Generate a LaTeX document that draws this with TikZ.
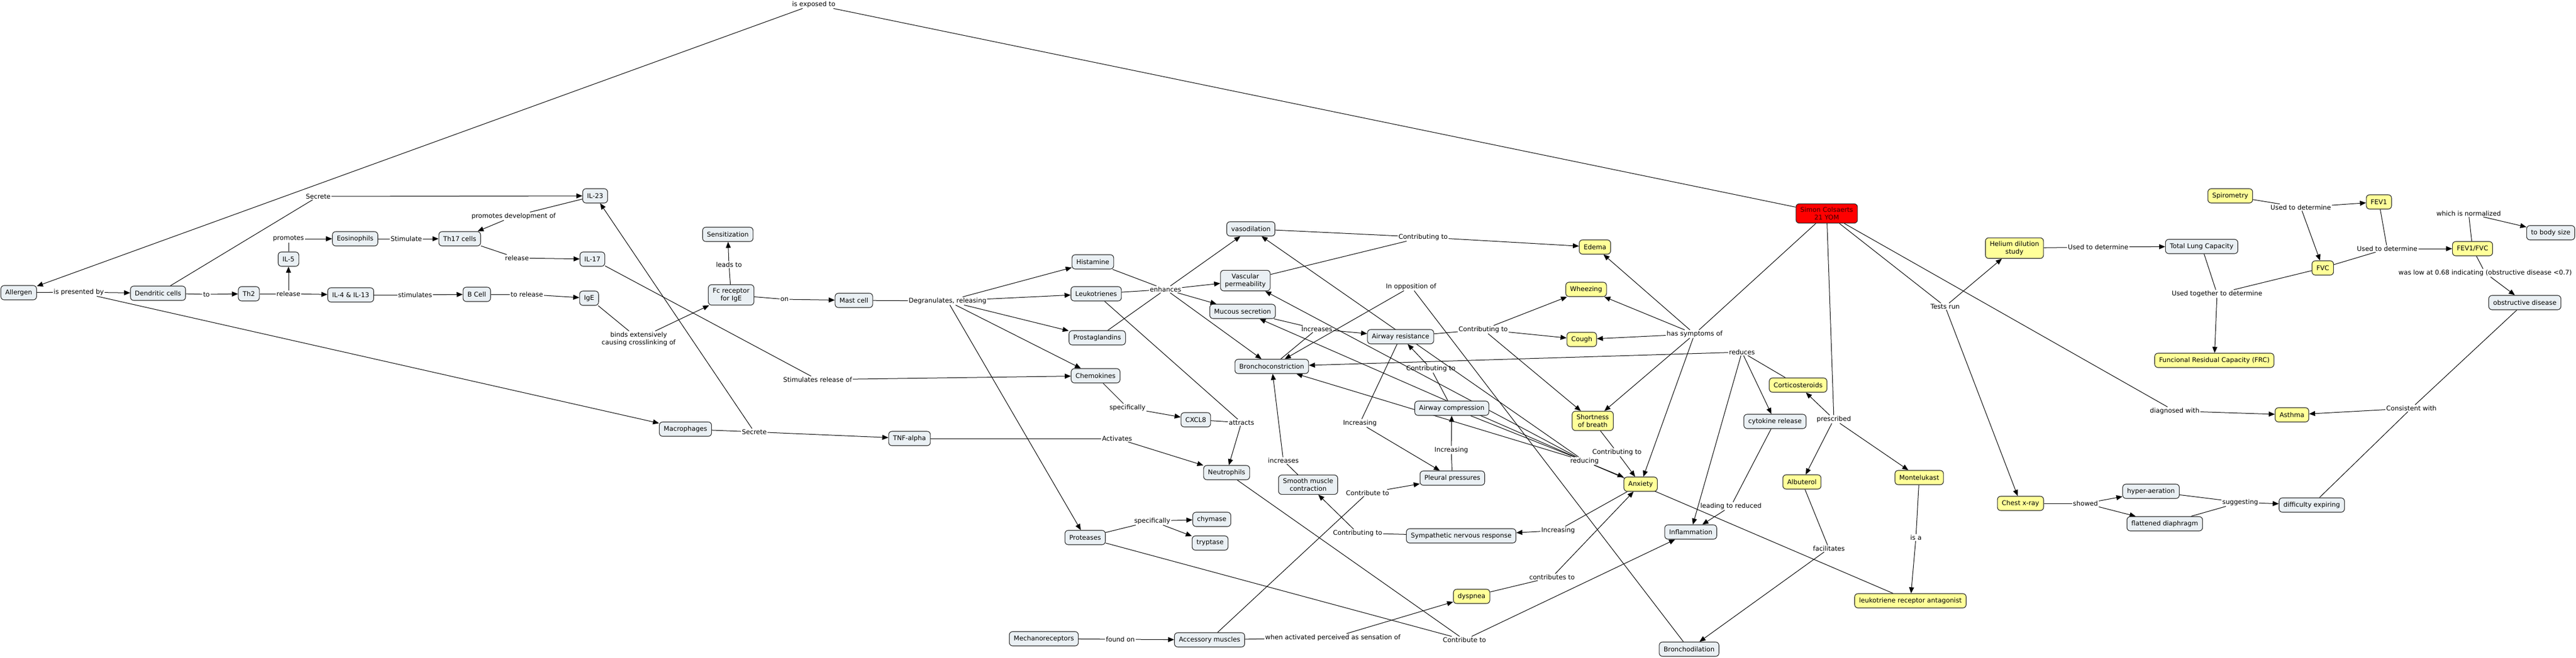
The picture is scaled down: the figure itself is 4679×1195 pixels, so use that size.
\documentclass[tikz,border=0pt]{standalone}
\usepackage{fontspec}
\setmainfont{DejaVu Sans}
\usetikzlibrary{arrows.meta}
\pgfdeclarelayer{bg}
\pgfsetlayers{bg,main}
\definecolor{cblue}{HTML}{EAF0F4}
\definecolor{cyel}{HTML}{FFFF99}
\definecolor{cred}{HTML}{FF0000}
\definecolor{credtext}{HTML}{3A0000}
\newcommand\cmfont{\fontsize{11.8}{14}\selectfont}
\tikzset{
  concept/.style={draw=black!85, line width=1.1pt, rounded corners=6pt, fill=cblue,
    inner xsep=8pt, inner ysep=6pt, minimum height=26pt, align=center, font=\cmfont},
  yel/.style={concept, fill=cyel},
  redc/.style={concept, fill=cred, text=credtext},
  lbl/.style={inner sep=1.5pt, font=\cmfont, align=center},
  edge/.style={line width=1pt, draw=black},
  arr/.style={edge, -{Triangle[length=11pt,width=9pt]}}
}
\begin{document}
\begin{tikzpicture}[x=1pt,y=-1pt]
\useasboundingbox (0,0) rectangle (4679,1195);
% ---------- concepts ----------
\node[concept] (allergen) at (34,532) {Allergen};
\node[concept] (dend) at (287,533) {Dendritic cells};
\node[concept] (th2) at (452,534) {Th2};
\node[concept] (il5) at (524,471) {IL-5};
\node[concept] (eos) at (645,434) {Eosinophils};
\node[concept] (il413) at (637,536) {IL-4 \& IL-13};
\node[concept] (th17) at (835,434) {Th17 cells};
\node[concept] (il23) at (1081,356) {IL-23};
\node[concept] (il17) at (1076,471) {IL-17};
\node[concept] (bcell) at (866,535) {B Cell};
\node[concept] (ige) at (1070,542) {IgE};
\node[concept] (fc) at (1328,536) {Fc receptor\\for IgE};
\node[concept] (sens) at (1322,426) {Sensitization};
\node[concept] (mast) at (1551,546) {Mast cell};
\node[concept] (hist) at (1985,476) {Histamine};
\node[concept] (leuko) at (1991,534) {Leukotrienes};
\node[concept] (prosta) at (1993,614) {Prostaglandins};
\node[concept] (chemo) at (1990,683) {Chemokines};
\node[concept] (macro) at (1245,780) {Macrophages};
\node[concept] (tnf) at (1652,797) {TNF-alpha};
\node[concept] (cxcl8) at (2172,763) {CXCL8};
\node[concept] (neutro) at (2228,859) {Neutrophils};
\node[concept] (protease) at (1971,977) {Proteases};
\node[concept] (chymase) at (2201,944) {chymase};
\node[concept] (tryptase) at (2198,987) {tryptase};
\node[concept] (mechano) at (1896,1161) {Mechanoreceptors};
\node[concept] (access) at (2197,1163) {Accessory muscles};
\node[concept] (vaso) at (2272,416) {vasodilation};
\node[concept] (vascperm) at (2262,510) {Vascular\\permeability};
\node[concept] (mucous) at (2257,566) {Mucous secretion};
\node[concept] (broncho) at (2310,666) {Bronchoconstriction};
\node[concept] (smooth) at (2376,881) {Smooth muscle\\contraction};
\node[concept] (airres) at (2544,612) {Airway resistance};
\node[concept] (aircomp) at (2637,742) {Airway compression};
\node[concept] (pleural) at (2638,869) {Pleural pressures};
\node[concept] (symp) at (2654,974) {Sympathetic nervous response};
\node[yel] (dyspnea) at (2673,1084) {dyspnea};
\node[yel] (edema) at (2897,449) {Edema};
\node[yel] (wheez) at (2881,526) {Wheezing};
\node[yel] (cough) at (2873,617) {Cough};
\node[yel] (sob) at (2893,765) {Shortness\\of breath};
\node[yel] (anxiety) at (2980,880) {Anxiety};
\node[concept] (inflam) at (3071,967) {Inflammation};
\node[concept] (bronchodil) at (3068,1180) {Bronchodilation};
\node[redc] (simon) at (3318,388) {Simon Colsaerts\\21 YOM};
\node[yel] (cortico) at (3266,700) {Corticosteroids};
\node[concept] (cytokine) at (3224,766) {cytokine release};
\node[yel] (albuterol) at (3273,876) {Albuterol};
\node[yel] (montel) at (3486,868) {Montelukast};
\node[yel] (lra) at (3470,1092) {leukotriene receptor antagonist};
\node[yel] (helium) at (3659,451) {Helium dilution\\study};
\node[yel] (chest) at (3670,915) {Chest x-ray};
\node[concept] (hyper) at (3907,893) {hyper-aeration};
\node[concept] (flat) at (3932,952) {flattened diaphragm};
\node[concept] (diffexp) at (4199,918) {difficulty expiring};
\node[concept] (tlc) at (3999,448) {Total Lung Capacity};
\node[yel] (frc) at (4022,655) {Funcional Residual Capacity (FRC)};
\node[yel] (spiro) at (4051,356) {Spirometry};
\node[yel] (fev1) at (4321,367) {FEV1};
\node[yel] (fvc) at (4219,487) {FVC};
\node[yel] (fevfvc) at (4491,452) {FEV1/FVC};
\node[concept] (bodysize) at (4633,423) {to body size};
\node[concept] (obstr) at (4586,550) {obstructive disease};
\node[yel] (asthma) at (4163,754) {Asthma};
% ---------- linking phrases ----------
\node[lbl] (lexp) at (1478,8) {is exposed to};
\node[lbl] (lpres) at (143,531) {is presented by};
\node[lbl] (lto) at (375,535) {to};
\node[lbl] (lsec1) at (578,357) {Secrete};
\node[lbl] (lrel1) at (524,534) {release};
\node[lbl] (lprom) at (524,434) {promotes};
\node[lbl] (lstim1) at (738,434) {Stimulate};
\node[lbl] (lstim2) at (754,536) {stimulates};
\node[lbl] (lpromdev) at (933,393) {promotes development of};
\node[lbl] (lrel2) at (939,469) {release};
\node[lbl] (ltorel) at (957,535) {to release};
\node[lbl] (lbinds) at (1160,616) {binds extensively\\causing crosslinking of};
\node[lbl] (lleads) at (1324,481) {leads to};
\node[lbl] (lon) at (1425,544) {on};
\node[lbl] (ldegran) at (1721,547) {Degranulates, releasing};
\node[lbl] (lstimrel) at (1485,690) {Stimulates release of};
\node[lbl] (lsec2) at (1370,785) {Secrete};
\node[lbl] (lact) at (2029,797) {Activates};
\node[lbl] (lspec1) at (2048,741) {specifically};
\node[lbl] (lattr) at (2255,768) {attracts};
\node[lbl] (lspec2) at (2093,947) {specifically};
\node[lbl] (lfound) at (2035,1162) {found on};
\node[lbl] (lwhen) at (2421,1159) {when activated perceived as sensation of};
\node[lbl] (lenh) at (2117,526) {enhances};
\node[lbl] (lctop) at (2585,431) {Contributing to};
\node[lbl] (lopp) at (2563,521) {In opposition of};
\node[lbl] (lincs) at (2392,598) {Increases};
\node[lbl] (lcar) at (2694,599) {Contributing to};
\node[lbl] (lclow) at (2599,670) {Contributing to};
\node[lbl] (lincl) at (2470,769) {Increasing};
\node[lbl] (lincm) at (2636,818) {Increasing};
\node[lbl] (lcontto) at (2484,896) {Contribute to};
\node[lbl] (lcsymp) at (2466,969) {Contributing to};
\node[lbl] (linca) at (2830,964) {Increasing};
\node[lbl] (lincs2) at (2331,837) {increases};
\node[lbl] (lcsob) at (2937,822) {Contributing to};
\node[lbl] (lred) at (2878,838) {reducing};
\node[lbl] (lcontrib) at (2819,1049) {contributes to};
\node[lbl] (lcbot) at (2660,1163) {Contribute to};
\node[lbl] (lhas) at (3078,607) {has symptoms of};
\node[lbl] (lreduces) at (3164,640) {reduces};
\node[lbl] (lpresc) at (3331,762) {prescribed};
\node[lbl] (llead) at (3144,920) {leading to reduced};
\node[lbl] (lfacil) at (3322,997) {facilitates};
\node[lbl] (lisa) at (3480,977) {is a};
\node[lbl] (ltests) at (3533,557) {Tests run};
\node[lbl] (ldiag) at (3950,747) {diagnosed with};
\node[lbl] (luhe) at (3811,449) {Used to determine};
\node[lbl] (lusp) at (4179,377) {Used to determine};
\node[lbl] (lufvc) at (4336,452) {Used to determine};
\node[lbl] (ltog) at (4027,534) {Used together to determine};
\node[lbl] (lnorm) at (4484,388) {which is normalized};
\node[lbl] (llow) at (4514,496) {was low at 0.68 indicating (obstructive disease <0.7)};
\node[lbl] (lcons) at (4380,742) {Consistent with};
\node[lbl] (lshow) at (3788,915) {showed};
\node[lbl] (lsugg) at (4069,913) {suggesting};
% ---------- connectors ----------
\begin{pgfonlayer}{bg}
\draw[edge] (simon) -- (lexp);  \draw[arr] (lexp) -- (allergen);
\draw[edge] (allergen) -- (lpres); \draw[arr] (lpres) -- (dend); \draw[arr] (lpres) -- (macro);
\draw[edge] (dend) -- (lto); \draw[arr] (lto) -- (th2);
\draw[edge] (dend) -- (lsec1); \draw[arr] (lsec1) -- (il23);
\draw[edge] (th2) -- (lrel1); \draw[arr] (lrel1) -- (il5); \draw[arr] (lrel1) -- (il413);
\draw[edge] (il5) -- (lprom); \draw[arr] (lprom) -- (eos);
\draw[edge] (eos) -- (lstim1); \draw[arr] (lstim1) -- (th17);
\draw[edge] (il23) -- (lpromdev); \draw[arr] (lpromdev) -- (th17);
\draw[edge] (th17) -- (lrel2); \draw[arr] (lrel2) -- (il17);
\draw[edge] (il413) -- (lstim2); \draw[arr] (lstim2) -- (bcell);
\draw[edge] (bcell) -- (ltorel); \draw[arr] (ltorel) -- (ige);
\draw[edge] (ige) -- (lbinds); \draw[arr] (lbinds) -- (fc);
\draw[edge] (fc) -- (lleads); \draw[arr] (lleads) -- (sens);
\draw[edge] (fc) -- (lon); \draw[arr] (lon) -- (mast);
\draw[edge] (mast) -- (ldegran);
\draw[arr] (ldegran) -- (hist); \draw[arr] (ldegran) -- (leuko); \draw[arr] (ldegran) -- (prosta);
\draw[arr] (ldegran) -- (chemo); \draw[arr] (ldegran) -- (protease);
\draw[edge] (il17) -- (lstimrel); \draw[arr] (lstimrel) -- (chemo);
\draw[edge] (macro) -- (lsec2); \draw[arr] (lsec2) -- (tnf); \draw[arr] (lsec2) -- (il23);
\draw[edge] (tnf) -- (lact); \draw[arr] (lact) -- (neutro);
\draw[edge] (chemo) -- (lspec1); \draw[arr] (lspec1) -- (cxcl8);
\draw[edge] (cxcl8) -- (lattr); \draw[edge] (leuko) -- (lattr); \draw[arr] (lattr) -- (neutro);
\draw[edge] (protease) -- (lspec2); \draw[arr] (lspec2) -- (chymase); \draw[arr] (lspec2) -- (tryptase);
\draw[edge] (mechano) -- (lfound); \draw[arr] (lfound) -- (access);
\draw[edge] (access) -- (lwhen); \draw[arr] (lwhen) -- (dyspnea);
\draw[edge] (access) -- (lcontto); \draw[arr] (lcontto) -- (pleural);
\draw[edge] (hist) -- (lenh); \draw[edge] (leuko) -- (lenh); \draw[edge] (prosta) -- (lenh);
\draw[arr] (lenh) -- (vaso); \draw[arr] (lenh) -- (vascperm); \draw[arr] (lenh) -- (mucous); \draw[arr] (lenh) -- (broncho);
\draw[edge] (vaso) -- (lctop); \draw[edge] (vascperm) -- (lctop); \draw[arr] (lctop) -- (edema);
\draw[edge] (bronchodil) -- (lopp); \draw[arr] (lopp) -- (broncho);
\draw[edge] (mucous) -- (lincs); \draw[edge] (broncho) -- (lincs); \draw[arr] (lincs) -- (airres);
\draw[edge] (airres) -- (lcar); \draw[arr] (lcar) -- (wheez); \draw[arr] (lcar) -- (cough); \draw[arr] (lcar) -- (sob);
\draw[edge] (aircomp) -- (lclow); \draw[arr] (lclow) -- (airres);
\draw[edge] (airres) -- (lincl); \draw[arr] (lincl) -- (pleural);
\draw[edge] (pleural) -- (lincm); \draw[arr] (lincm) -- (aircomp);
\draw[edge] (anxiety) -- (linca); \draw[arr] (linca) -- (symp);
\draw[edge] (symp) -- (lcsymp); \draw[arr] (lcsymp) -- (smooth);
\draw[edge] (smooth) -- (lincs2); \draw[arr] (lincs2) -- (broncho);
\draw[edge] (sob) -- (lcsob); \draw[arr] (lcsob) -- (anxiety);
\draw[edge] (lra) -- (lred); \draw[edge] (aircomp) -- (lred);
\draw[arr] (lred) -- (anxiety); \draw[arr] (lred) -- (vaso); \draw[arr] (lred) -- (vascperm);
\draw[arr] (lred) -- (mucous); \draw[arr] (lred) -- (broncho);
\draw[edge] (dyspnea) -- (lcontrib); \draw[arr] (lcontrib) -- (anxiety);
\draw[edge] (neutro) -- (lcbot); \draw[edge] (protease) -- (lcbot); \draw[arr] (lcbot) -- (inflam);
\draw[edge] (simon) -- (lhas);
\draw[arr] (lhas) -- (edema); \draw[arr] (lhas) -- (wheez); \draw[arr] (lhas) -- (cough);
\draw[arr] (lhas) -- (sob); \draw[arr] (lhas) -- (anxiety);
\draw[edge] (cortico) -- (lreduces); \draw[arr] (lreduces) -- (broncho);
\draw[arr] (lreduces) -- (cytokine); \draw[arr] (lreduces) -- (inflam);
\draw[edge] (simon) -- (lpresc); \draw[arr] (lpresc) -- (cortico); \draw[arr] (lpresc) -- (albuterol); \draw[arr] (lpresc) -- (montel);
\draw[edge] (cytokine) -- (llead); \draw[arr] (llead) -- (inflam);
\draw[edge] (albuterol) -- (lfacil); \draw[arr] (lfacil) -- (bronchodil);
\draw[edge] (montel) -- (lisa); \draw[arr] (lisa) -- (lra);
\draw[edge] (simon) -- (ltests); \draw[arr] (ltests) -- (helium); \draw[arr] (ltests) -- (chest);
\draw[edge] (simon) -- (ldiag); \draw[arr] (ldiag) -- (asthma);
\draw[edge] (helium) -- (luhe); \draw[arr] (luhe) -- (tlc);
\draw[edge] (tlc) -- (ltog); \draw[edge] (fvc) -- (ltog); \draw[arr] (ltog) -- (frc);
\draw[edge] (spiro) -- (lusp); \draw[arr] (lusp) -- (fev1); \draw[arr] (lusp) -- (fvc);
\draw[edge] (fev1) -- (lufvc); \draw[edge] (fvc) -- (lufvc); \draw[arr] (lufvc) -- (fevfvc);
\draw[edge] (fevfvc) -- (lnorm); \draw[arr] (lnorm) -- (bodysize);
\draw[edge] (fevfvc) -- (llow); \draw[arr] (llow) -- (obstr);
\draw[edge] (obstr) -- (lcons); \draw[edge] (diffexp) -- (lcons); \draw[arr] (lcons) -- (asthma);
\draw[edge] (chest) -- (lshow); \draw[arr] (lshow) -- (hyper); \draw[arr] (lshow) -- (flat);
\draw[edge] (hyper) -- (lsugg); \draw[edge] (flat) -- (lsugg); \draw[arr] (lsugg) -- (diffexp);
\end{pgfonlayer}
\end{tikzpicture}
\end{document}
